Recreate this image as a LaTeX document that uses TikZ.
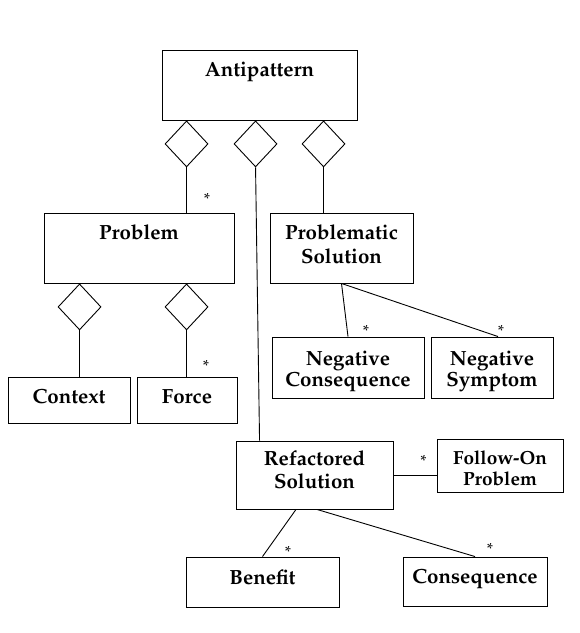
\documentclass[tikz,border=0pt]{standalone}
\IfFileExists{mathpazo.sty}{\usepackage[T1]{fontenc}\usepackage{mathpazo}}{\usepackage{fontspec}\setmainfont{Liberation Serif}}
\usepackage{tikz}
\usetikzlibrary{calc,shapes.geometric}
\tikzset{tight/.style={inner sep=2pt},
  cls/.style={draw, rectangle, align=center, text height=14pt, font=\bfseries\fontsize{20.5}{23}\selectfont},
  head/.style={text height=13pt, text depth=31pt, inner ysep=13pt},
  agg/.style={draw, diamond, minimum width=43pt, minimum height=46pt, inner sep=0pt},
  many/.style={font=\fontsize{16}{16}\selectfont, inner sep=0pt}}

\begin{document}
\begin{tikzpicture}[style=tight, x=1pt, y=-1pt, line width=0.9pt]
  \useasboundingbox (0,0) rectangle (580,633);
  \node at (259.5,85) [cls, head, minimum width=195pt] (anti) {Antipattern};
  \node at (139,248) [cls, head, minimum width=190pt] (problem) {Problem};
  \node at (341.5,248) [cls, text height=31pt, text depth=0pt, font=\bfseries\fontsize{20.5}{24}\selectfont, minimum width=143pt, minimum height=70pt] (probsol) {Problematic\\Solution};
  \node at (69,400) [cls, text depth=8pt, minimum width=122pt, minimum height=46pt] (context) {Context};
  \node at (187,400) [cls, text depth=8pt, minimum width=100pt, minimum height=46pt] (force) {Force};
  \node at (348,367.5) [cls, text height=38pt, text depth=0pt, font=\bfseries\fontsize{20.5}{21}\selectfont, minimum width=152pt, minimum height=61pt] (negcons) {Negative\\Consequence};
  \node at (492,367.5) [cls, text height=38pt, text depth=0pt, font=\bfseries\fontsize{20.5}{21}\selectfont, minimum width=122pt, minimum height=61pt] (negsym) {Negative\\Symptom};
  \node at (314.5,475) [cls, text height=27pt, text depth=0pt, minimum width=157pt, minimum height=68pt] (refsol) {Refactored\\Solution};
  \node at (500,465.5) [cls, text height=39pt, text depth=0pt, font=\bfseries\fontsize{19}{21}\selectfont, minimum width=126pt, minimum height=53pt] (followon) {Follow-On\\Problem};
  \node at (262.5,582) [cls, text depth=10pt, minimum width=153pt, minimum height=50pt] (benefit) {Benefit};
  \node at (475,581.5) [cls, text depth=10pt, minimum width=144pt, minimum height=49pt] (conseq) {Consequence};

  \foreach \dx / \num in {25/1, 94/2, 162/3} {
    \node at ($ (anti.south west) + (\dx,0) $) [agg, anchor=north] (a\num) {};
  }
  \foreach \dx / \num in {36/1, 143/2} {
    \node at ($ (problem.south west) + (\dx,0) $) [agg, anchor=north] (p\num) {};
  }

  \draw (a1.south) -- (a1.south |- problem.north);
  \draw (a2.south) -- ($ (refsol.north west) + (24,0) $);
  \draw (a3.south) -- (a3.south |- probsol.north);
  \draw (p1.south) -- (p1.south |- context.north);
  \draw (p2.south) -- (p2.south |- force.north);
  \draw (probsol.south) -- (negcons.north);
  \draw (probsol.south) -- ($ (negsym.north) + (6,0) $);
  \draw (refsol.east) -- (refsol.east -| followon.west);
  \draw ($ (refsol.south) + (-18.5,0) $) -- (benefit.north);
  \draw ($ (refsol.south) + (2.5,0) $) -- (conseq.north);

  \node at ($ (problem.north) + (68,-14) $) [many] (m1) {*};
  \node at ($ (force.north) + (19,-11) $) [many] (m2) {*};
  \node at ($ (negcons.north) + (18,-6) $) [many] (m3) {*};
  \node at ($ (negsym.north) + (9,-6) $) [many] (m4) {*};
  \node at ($ (followon.west) + (-13,-5) $) [many] (m5) {*};
  \node at ($ (benefit.north) + (25.5,-5) $) [many] (m6) {*};
  \node at ($ (conseq.north) + (15,-8) $) [many] (m7) {*};
\end{tikzpicture}
\end{document}
